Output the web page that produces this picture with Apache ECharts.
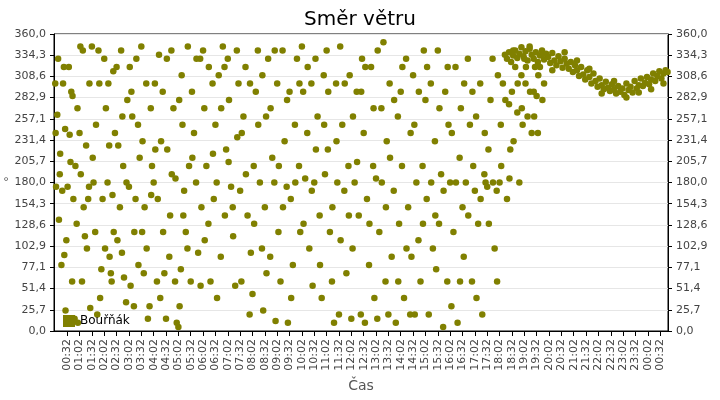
<!DOCTYPE html>
<html><head><meta charset="utf-8">
<script src="https://cdn.jsdelivr.net/npm/echarts@6/dist/echarts.min.js"></script>
<style>html,body{margin:0;padding:0;background:#fff}#c{width:720px;height:400px}</style>
</head><body><div id="c"></div>
<script>
const seriesName = 'Bouřňák';
const yTicks = [0,25.7,51.4,77.1,102.9,128.6,154.3,180,205.7,231.4,257.1,282.9,308.6,334.3,360];
const xTicks = [];
for (let m = 32; m <= 1472; m += 30) xTicks.push(m);
const scatterPoints = [
[5,175],[8,262],[12,135],[3,300],[15,215],[20,170],[25,92],[18,80],[27,245],[10,330],[22,300],[28,25],
[33,175],[38,238],[42,290],[47,160],[52,200],[55,130],[58,10],[36,320],[45,285],[50,15],
[62,240],[65,190],[70,340],[75,115],[80,100],[85,175],[88,28],[68,60],[78,225],[83,160],
[92,345],[96,180],[100,120],[105,20],[110,300],[115,75],[118,160],[102,250],[108,340],
[122,330],[126,270],[130,180],[135,90],[140,60],[145,120],[148,240],[132,300],[138,70],[142,165],
[152,320],[156,225],[160,150],[165,95],[170,65],[175,35],[178,280],[163,340],[168,200],
[182,175],[186,55],[190,260],[195,120],[200,330],[205,80],[208,210],[188,290],[198,160],
[212,345],[215,230],[220,150],[225,100],[228,15],[232,30],[235,270],[238,200],[218,70],
[242,180],[245,300],[250,60],[255,335],[260,230],[265,120],[268,70],[252,160],
[272,15],[275,220],[280,90],[285,340],[290,270],[295,185],[298,10],[282,140],
[302,5],[305,30],[308,75],[312,250],[316,170],[320,120],[325,345],[328,200],[310,310],
[332,60],[335,290],[340,240],[345,180],[350,95],[355,330],[358,150],
[362,340],[365,270],[370,200],[375,130],[380,60],[385,300],[388,160],
[392,250],[395,180],[400,310],[405,90],[410,345],[415,140],[418,220],
[422,330],[425,280],[430,175],[435,115],[440,55],[445,235],[448,300],
[452,170],[455,60],[460,260],[465,320],[470,140],[475,20],[478,95],
[482,45],[485,200],[490,290],[495,340],[500,180],[505,100],[508,25],
[512,150],[515,260],[520,330],[525,90],[530,210],[535,180],[538,12],
[542,300],[545,120],[550,60],[555,340],[560,230],[565,175],[568,10],
[572,290],[575,160],[580,80],[585,250],[590,330],[595,200],[598,120],
[602,345],[605,290],[610,185],[615,240],[620,100],[625,300],[628,55],
[632,180],[635,330],[640,260],[645,140],[650,40],[655,310],[658,190],
[662,340],[665,220],[670,120],[675,60],[680,10],[685,300],[688,180],
[692,20],[695,345],[700,250],[705,170],[710,70],[715,200],[718,310],
[722,15],[725,100],[730,180],[735,290],[740,140],[745,20],[748,330],
[752,240],[755,10],[760,160],[765,80],[770,320],[775,200],[778,40],
[782,185],[785,15],[790,120],[795,270],[800,350],[805,60],[808,230],
[812,20],[815,300],[820,90],[825,170],[830,10],[835,260],[838,130],
[842,290],[845,200],[850,40],[855,330],[860,150],[865,20],[868,90],
[872,310],[875,250],[880,180],[885,110],[890,60],[895,200],[898,340],
[902,280],[905,160],[910,20],[915,300],[920,100],[925,230],[928,75],
[932,340],[935,130],[940,190],[945,5],[950,290],[955,60],[958,250],
[962,180],[965,30],[970,120],[975,320],[980,10],[985,210],[988,270],
[992,150],[995,90],[1000,180],[1005,330],[1010,250],[1015,60],[1018,200],
[1022,170],[1025,260],[1030,130],[1035,300],[1040,20],[1045,190],[1048,180],
[1052,175],[1055,220],[1060,280],[1065,330],[1070,100],[1075,170],[1078,310],
[1082,180],[1085,250],[1090,300],[1095,335],[1100,160],[1105,275],[1108,220],
[1112,290],[1115,340],[1120,320],[1125,265],[1130,180],[1135,310],[1138,250],
[1142,330],[1145,300],[1150,260],[1155,345],[1160,240],[1165,290],[1168,320],
[1172,285],[1175,240],[1180,320],[1185,335],[1190,300]
];
const extraPoints = [
[4,240],[14,190],[24,320],[30,110],[40,205],[44,60],[57,270],[64,345],[72,150],[86,300],
[94,210],[112,40],[124,100],[134,225],[144,315],[154,110],[166,260],[176,180],[184,320],[194,30],
[204,250],[214,120],[224,300],[236,165],[246,220],[258,40],[264,290],[274,330],[286,190],[294,60],
[304,280],[314,140],[324,100],[336,210],[346,330],[356,55],[366,110],[376,320],[386,215],[396,40],
[406,270],[414,320],[424,205],[434,150],[444,340],[456,240],[466,190],[476,300],[486,130],[496,250],
[506,310],[516,70],[526,270],[536,340],[546,200],[556,150],[566,280],[576,40],[586,180],[596,300],
[606,130],[616,320],[626,170],[636,220],[646,80],[656,250],[666,290],[676,150],[686,230],[696,110],
[706,300],[716,140],[726,260],[736,205],[746,290],[756,320],[766,130],[776,270],[786,340],[796,180],
[806,150],[816,210],[826,280],[836,60],[846,320],[856,100],[866,240],[876,20],[886,290],[896,130],
[906,320],[916,180],[926,140],[936,270],[946,170],[956,320],[966,240],[976,180],[986,60],[996,300],
[1006,140],[1016,290],[1026,40],[1036,160],[1046,240],[1056,130],[1066,180],[1076,60],[1086,200],[1096,280],
[1106,185],[1116,230],[1126,300],[1136,270],[1146,320],[1156,290],[1166,260],[1176,310],[1186,280]
];
const trendPoints = [
[1100,330],[1105,338],[1110,326],[1115,334],[1120,340],[1125,331],[1130,336],[1135,344],[1140,333],[1145,339],
[1150,328],[1155,342],[1160,335],[1165,330],[1170,338],[1175,326],[1180,334],[1185,340],[1190,329],[1195,336],
[1200,332],[1205,325],[1210,337],[1215,328],[1220,322],[1225,333],[1230,327],[1235,319],[1240,330],[1245,324],
[1250,318],[1255,326],[1260,314],[1265,322],[1270,316],[1275,309],[1280,320],[1285,311],[1290,305],[1295,316],
[1300,308],[1305,300],[1310,312],[1315,303],[1320,296],[1325,306],[1330,298],[1335,293],[1340,302],[1345,295],
[1350,291],[1355,299],[1360,293],[1365,288],[1370,297],[1375,290],[1380,294],[1385,286],[1390,300],[1395,292],
[1400,296],[1405,289],[1410,303],[1415,294],[1420,298],[1425,306],[1430,297],[1435,301],[1440,308],[1445,299],
[1450,305],[1455,312],[1460,303],[1465,309],[1470,315],[1475,306],[1480,312],[1485,316],[1490,314],
[1210,316],[1240,338],[1270,328],[1300,318],[1330,288],[1360,303],[1390,283],[1420,289],[1450,293],[1480,300]
];
function fmtTime(m){m=Math.round(m)%1440;const h=Math.floor(m/60),mm=m%60;return String(h).padStart(2,'0')+':'+String(mm).padStart(2,'0');}
function fmtDeg(v){return (Math.round(v*10)/10).toFixed(1).replace('.',',');}
const color='#808000';
const yAxisCommon={type:'value',min:0,max:360,
  axisLine:{show:true,lineStyle:{color:'#000'}},
  axisTick:{show:true,customValues:yTicks,length:4,lineStyle:{color:'#000'}},
  axisLabel:{customValues:yTicks,formatter:fmtDeg,color:'#444',fontSize:11,fontFamily:'DejaVu Sans'},
  splitLine:{show:false}};
const chart=echarts.init(document.getElementById('c'));
chart.setOption({
  animation:false,
  title:{text:'Směr větru',left:'center',top:5,textStyle:{fontSize:20,fontWeight:'normal',color:'#000',fontFamily:'DejaVu Sans'}},
  grid:{left:54,right:52,top:34,bottom:69,show:true,borderColor:'#000',borderWidth:1},
  legend:{data:[seriesName],left:58,top:310,icon:'rect',itemWidth:12,itemHeight:12,itemGap:4,textStyle:{fontSize:12,color:'#000',fontFamily:'DejaVu Sans'}},
  xAxis:{type:'value',min:0,max:1491,name:'Čas',nameLocation:'middle',nameGap:48,nameTextStyle:{fontSize:14,color:'#555',fontFamily:'DejaVu Sans'},
    axisLine:{lineStyle:{color:'#000'}},
    axisTick:{customValues:xTicks,length:5,lineStyle:{color:'#000'}},
    axisLabel:{customValues:xTicks,formatter:fmtTime,rotate:90,color:'#444',fontSize:11,fontFamily:'DejaVu Sans'},
    splitLine:{show:false}},
  yAxis:[
    Object.assign({},yAxisCommon,{position:'left',name:'°',nameLocation:'middle',nameGap:44,nameRotate:0,nameTextStyle:{fontSize:13,color:'#555'},
      splitLine:{show:true,lineStyle:{color:'#e6e6e6'}}}),
    Object.assign({},yAxisCommon,{position:'right'})
  ],
  series:[
    {name:seriesName,type:'scatter',data:scatterPoints.concat(extraPoints,trendPoints),symbolSize:6.5,itemStyle:{color:color,opacity:1}},
  ]
});
</script></body></html>
